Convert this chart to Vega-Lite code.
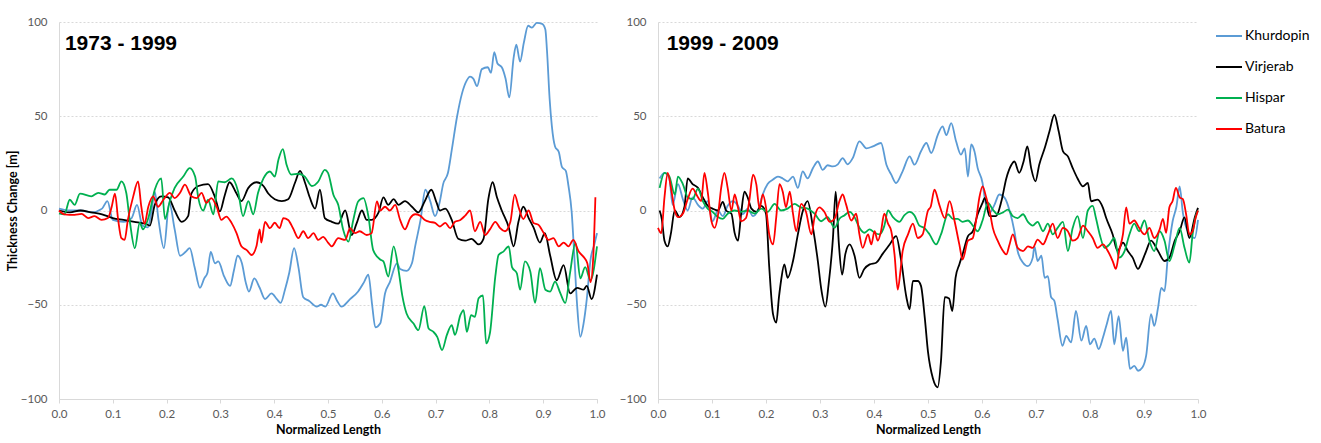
{
"$schema": "https://vega.github.io/schema/vega-lite/v6.json",
"padding": {"left": 6, "top": 16, "right": 0, "bottom": 0},
"background": "white",
"datasets": {
"d": [
{"period":"1973-1999","glacier":"Khurdopin","x":0,"y":1},{"period":"1973-1999","glacier":"Khurdopin","x":0.02,"y":0},{"period":"1973-1999","glacier":"Khurdopin","x":0.04,"y":0},{"period":"1973-1999","glacier":"Khurdopin","x":0.06,"y":-1},{"period":"1973-1999","glacier":"Khurdopin","x":0.08,"y":1},{"period":"1973-1999","glacier":"Khurdopin","x":0.09,"y":5},{"period":"1973-1999","glacier":"Khurdopin","x":0.1,"y":-5},{"period":"1973-1999","glacier":"Khurdopin","x":0.12,"y":-6},{"period":"1973-1999","glacier":"Khurdopin","x":0.135,"y":-4},{"period":"1973-1999","glacier":"Khurdopin","x":0.145,"y":3},{"period":"1973-1999","glacier":"Khurdopin","x":0.155,"y":-8},{"period":"1973-1999","glacier":"Khurdopin","x":0.165,"y":-9},{"period":"1973-1999","glacier":"Khurdopin","x":0.172,"y":0},{"period":"1973-1999","glacier":"Khurdopin","x":0.178,"y":10},{"period":"1973-1999","glacier":"Khurdopin","x":0.185,"y":-5},{"period":"1973-1999","glacier":"Khurdopin","x":0.195,"y":-20},{"period":"1973-1999","glacier":"Khurdopin","x":0.205,"y":4},{"period":"1973-1999","glacier":"Khurdopin","x":0.215,"y":-10},{"period":"1973-1999","glacier":"Khurdopin","x":0.225,"y":-24},{"period":"1973-1999","glacier":"Khurdopin","x":0.235,"y":-22},{"period":"1973-1999","glacier":"Khurdopin","x":0.243,"y":-20},{"period":"1973-1999","glacier":"Khurdopin","x":0.252,"y":-30},{"period":"1973-1999","glacier":"Khurdopin","x":0.262,"y":-41},{"period":"1973-1999","glacier":"Khurdopin","x":0.27,"y":-36},{"period":"1973-1999","glacier":"Khurdopin","x":0.276,"y":-33},{"period":"1973-1999","glacier":"Khurdopin","x":0.282,"y":-22},{"period":"1973-1999","glacier":"Khurdopin","x":0.29,"y":-28},{"period":"1973-1999","glacier":"Khurdopin","x":0.296,"y":-27},{"period":"1973-1999","glacier":"Khurdopin","x":0.307,"y":-35},{"period":"1973-1999","glacier":"Khurdopin","x":0.318,"y":-40},{"period":"1973-1999","glacier":"Khurdopin","x":0.325,"y":-32},{"period":"1973-1999","glacier":"Khurdopin","x":0.332,"y":-24},{"period":"1973-1999","glacier":"Khurdopin","x":0.34,"y":-28},{"period":"1973-1999","glacier":"Khurdopin","x":0.347,"y":-38},{"period":"1973-1999","glacier":"Khurdopin","x":0.353,"y":-43},{"period":"1973-1999","glacier":"Khurdopin","x":0.363,"y":-36},{"period":"1973-1999","glacier":"Khurdopin","x":0.373,"y":-41},{"period":"1973-1999","glacier":"Khurdopin","x":0.383,"y":-47},{"period":"1973-1999","glacier":"Khurdopin","x":0.395,"y":-44},{"period":"1973-1999","glacier":"Khurdopin","x":0.405,"y":-47},{"period":"1973-1999","glacier":"Khurdopin","x":0.412,"y":-49},{"period":"1973-1999","glacier":"Khurdopin","x":0.42,"y":-42},{"period":"1973-1999","glacier":"Khurdopin","x":0.428,"y":-33},{"period":"1973-1999","glacier":"Khurdopin","x":0.437,"y":-20},{"period":"1973-1999","glacier":"Khurdopin","x":0.445,"y":-30},{"period":"1973-1999","glacier":"Khurdopin","x":0.454,"y":-46},{"period":"1973-1999","glacier":"Khurdopin","x":0.465,"y":-48},{"period":"1973-1999","glacier":"Khurdopin","x":0.479,"y":-51},{"period":"1973-1999","glacier":"Khurdopin","x":0.487,"y":-50},{"period":"1973-1999","glacier":"Khurdopin","x":0.495,"y":-51},{"period":"1973-1999","glacier":"Khurdopin","x":0.509,"y":-44},{"period":"1973-1999","glacier":"Khurdopin","x":0.517,"y":-48},{"period":"1973-1999","glacier":"Khurdopin","x":0.525,"y":-51},{"period":"1973-1999","glacier":"Khurdopin","x":0.541,"y":-47},{"period":"1973-1999","glacier":"Khurdopin","x":0.556,"y":-43},{"period":"1973-1999","glacier":"Khurdopin","x":0.567,"y":-38},{"period":"1973-1999","glacier":"Khurdopin","x":0.575,"y":-34},{"period":"1973-1999","glacier":"Khurdopin","x":0.582,"y":-50},{"period":"1973-1999","glacier":"Khurdopin","x":0.588,"y":-62},{"period":"1973-1999","glacier":"Khurdopin","x":0.597,"y":-60},{"period":"1973-1999","glacier":"Khurdopin","x":0.606,"y":-44},{"period":"1973-1999","glacier":"Khurdopin","x":0.615,"y":-38},{"period":"1973-1999","glacier":"Khurdopin","x":0.628,"y":-28},{"period":"1973-1999","glacier":"Khurdopin","x":0.634,"y":-31},{"period":"1973-1999","glacier":"Khurdopin","x":0.646,"y":-32},{"period":"1973-1999","glacier":"Khurdopin","x":0.656,"y":-28},{"period":"1973-1999","glacier":"Khurdopin","x":0.662,"y":-19},{"period":"1973-1999","glacier":"Khurdopin","x":0.672,"y":-5},{"period":"1973-1999","glacier":"Khurdopin","x":0.681,"y":11},{"period":"1973-1999","glacier":"Khurdopin","x":0.69,"y":5},{"period":"1973-1999","glacier":"Khurdopin","x":0.699,"y":-3},{"period":"1973-1999","glacier":"Khurdopin","x":0.708,"y":5},{"period":"1973-1999","glacier":"Khurdopin","x":0.714,"y":14},{"period":"1973-1999","glacier":"Khurdopin","x":0.723,"y":20},{"period":"1973-1999","glacier":"Khurdopin","x":0.73,"y":32},{"period":"1973-1999","glacier":"Khurdopin","x":0.74,"y":50},{"period":"1973-1999","glacier":"Khurdopin","x":0.749,"y":62},{"period":"1973-1999","glacier":"Khurdopin","x":0.758,"y":69},{"period":"1973-1999","glacier":"Khurdopin","x":0.764,"y":71},{"period":"1973-1999","glacier":"Khurdopin","x":0.77,"y":70},{"period":"1973-1999","glacier":"Khurdopin","x":0.777,"y":66},{"period":"1973-1999","glacier":"Khurdopin","x":0.786,"y":75},{"period":"1973-1999","glacier":"Khurdopin","x":0.797,"y":76},{"period":"1973-1999","glacier":"Khurdopin","x":0.803,"y":73},{"period":"1973-1999","glacier":"Khurdopin","x":0.809,"y":84},{"period":"1973-1999","glacier":"Khurdopin","x":0.815,"y":78},{"period":"1973-1999","glacier":"Khurdopin","x":0.823,"y":76},{"period":"1973-1999","glacier":"Khurdopin","x":0.83,"y":70},{"period":"1973-1999","glacier":"Khurdopin","x":0.837,"y":60},{"period":"1973-1999","glacier":"Khurdopin","x":0.845,"y":81},{"period":"1973-1999","glacier":"Khurdopin","x":0.85,"y":88},{"period":"1973-1999","glacier":"Khurdopin","x":0.857,"y":79},{"period":"1973-1999","glacier":"Khurdopin","x":0.864,"y":89},{"period":"1973-1999","glacier":"Khurdopin","x":0.872,"y":98},{"period":"1973-1999","glacier":"Khurdopin","x":0.879,"y":97},{"period":"1973-1999","glacier":"Khurdopin","x":0.888,"y":99.5},{"period":"1973-1999","glacier":"Khurdopin","x":0.898,"y":99},{"period":"1973-1999","glacier":"Khurdopin","x":0.904,"y":96},{"period":"1973-1999","glacier":"Khurdopin","x":0.907,"y":85},{"period":"1973-1999","glacier":"Khurdopin","x":0.912,"y":59},{"period":"1973-1999","glacier":"Khurdopin","x":0.916,"y":45},{"period":"1973-1999","glacier":"Khurdopin","x":0.922,"y":34},{"period":"1973-1999","glacier":"Khurdopin","x":0.929,"y":31},{"period":"1973-1999","glacier":"Khurdopin","x":0.935,"y":23},{"period":"1973-1999","glacier":"Khurdopin","x":0.942,"y":21},{"period":"1973-1999","glacier":"Khurdopin","x":0.947,"y":13},{"period":"1973-1999","glacier":"Khurdopin","x":0.953,"y":-1},{"period":"1973-1999","glacier":"Khurdopin","x":0.958,"y":-25},{"period":"1973-1999","glacier":"Khurdopin","x":0.963,"y":-50},{"period":"1973-1999","glacier":"Khurdopin","x":0.969,"y":-67},{"period":"1973-1999","glacier":"Khurdopin","x":0.975,"y":-60},{"period":"1973-1999","glacier":"Khurdopin","x":0.981,"y":-47},{"period":"1973-1999","glacier":"Khurdopin","x":0.988,"y":-26},{"period":"1973-1999","glacier":"Khurdopin","x":0.995,"y":-18},{"period":"1973-1999","glacier":"Khurdopin","x":1,"y":-12},
{"period":"1973-1999","glacier":"Virjerab","x":0,"y":0},{"period":"1973-1999","glacier":"Virjerab","x":0.02,"y":-1},{"period":"1973-1999","glacier":"Virjerab","x":0.04,"y":0},{"period":"1973-1999","glacier":"Virjerab","x":0.06,"y":-1},{"period":"1973-1999","glacier":"Virjerab","x":0.08,"y":-2},{"period":"1973-1999","glacier":"Virjerab","x":0.1,"y":-4},{"period":"1973-1999","glacier":"Virjerab","x":0.12,"y":-5},{"period":"1973-1999","glacier":"Virjerab","x":0.14,"y":-6},{"period":"1973-1999","glacier":"Virjerab","x":0.16,"y":-7},{"period":"1973-1999","glacier":"Virjerab","x":0.169,"y":-8},{"period":"1973-1999","glacier":"Virjerab","x":0.178,"y":3},{"period":"1973-1999","glacier":"Virjerab","x":0.19,"y":7.5},{"period":"1973-1999","glacier":"Virjerab","x":0.203,"y":7},{"period":"1973-1999","glacier":"Virjerab","x":0.215,"y":0},{"period":"1973-1999","glacier":"Virjerab","x":0.228,"y":-6},{"period":"1973-1999","glacier":"Virjerab","x":0.24,"y":-3},{"period":"1973-1999","glacier":"Virjerab","x":0.246,"y":9},{"period":"1973-1999","glacier":"Virjerab","x":0.259,"y":13},{"period":"1973-1999","glacier":"Virjerab","x":0.277,"y":14},{"period":"1973-1999","glacier":"Virjerab","x":0.29,"y":7},{"period":"1973-1999","glacier":"Virjerab","x":0.299,"y":-0.5},{"period":"1973-1999","glacier":"Virjerab","x":0.308,"y":8},{"period":"1973-1999","glacier":"Virjerab","x":0.317,"y":15},{"period":"1973-1999","glacier":"Virjerab","x":0.33,"y":9},{"period":"1973-1999","glacier":"Virjerab","x":0.339,"y":5},{"period":"1973-1999","glacier":"Virjerab","x":0.352,"y":12},{"period":"1973-1999","glacier":"Virjerab","x":0.367,"y":15},{"period":"1973-1999","glacier":"Virjerab","x":0.38,"y":13},{"period":"1973-1999","glacier":"Virjerab","x":0.389,"y":9},{"period":"1973-1999","glacier":"Virjerab","x":0.401,"y":6},{"period":"1973-1999","glacier":"Virjerab","x":0.414,"y":5},{"period":"1973-1999","glacier":"Virjerab","x":0.426,"y":6},{"period":"1973-1999","glacier":"Virjerab","x":0.439,"y":15},{"period":"1973-1999","glacier":"Virjerab","x":0.448,"y":21},{"period":"1973-1999","glacier":"Virjerab","x":0.457,"y":15},{"period":"1973-1999","glacier":"Virjerab","x":0.466,"y":7},{"period":"1973-1999","glacier":"Virjerab","x":0.476,"y":1},{"period":"1973-1999","glacier":"Virjerab","x":0.485,"y":11},{"period":"1973-1999","glacier":"Virjerab","x":0.494,"y":-4},{"period":"1973-1999","glacier":"Virjerab","x":0.507,"y":-6},{"period":"1973-1999","glacier":"Virjerab","x":0.519,"y":-7},{"period":"1973-1999","glacier":"Virjerab","x":0.532,"y":0},{"period":"1973-1999","glacier":"Virjerab","x":0.544,"y":-13},{"period":"1973-1999","glacier":"Virjerab","x":0.553,"y":-7},{"period":"1973-1999","glacier":"Virjerab","x":0.563,"y":0},{"period":"1973-1999","glacier":"Virjerab","x":0.572,"y":-5},{"period":"1973-1999","glacier":"Virjerab","x":0.581,"y":-5},{"period":"1973-1999","glacier":"Virjerab","x":0.594,"y":-1},{"period":"1973-1999","glacier":"Virjerab","x":0.603,"y":7},{"period":"1973-1999","glacier":"Virjerab","x":0.612,"y":3},{"period":"1973-1999","glacier":"Virjerab","x":0.622,"y":6},{"period":"1973-1999","glacier":"Virjerab","x":0.631,"y":3},{"period":"1973-1999","glacier":"Virjerab","x":0.643,"y":5},{"period":"1973-1999","glacier":"Virjerab","x":0.656,"y":2},{"period":"1973-1999","glacier":"Virjerab","x":0.668,"y":-1},{"period":"1973-1999","glacier":"Virjerab","x":0.68,"y":5},{"period":"1973-1999","glacier":"Virjerab","x":0.692,"y":11},{"period":"1973-1999","glacier":"Virjerab","x":0.702,"y":4},{"period":"1973-1999","glacier":"Virjerab","x":0.708,"y":0},{"period":"1973-1999","glacier":"Virjerab","x":0.718,"y":1},{"period":"1973-1999","glacier":"Virjerab","x":0.73,"y":-5},{"period":"1973-1999","glacier":"Virjerab","x":0.742,"y":-15},{"period":"1973-1999","glacier":"Virjerab","x":0.755,"y":-16},{"period":"1973-1999","glacier":"Virjerab","x":0.767,"y":-15},{"period":"1973-1999","glacier":"Virjerab","x":0.78,"y":-18},{"period":"1973-1999","glacier":"Virjerab","x":0.789,"y":-15},{"period":"1973-1999","glacier":"Virjerab","x":0.798,"y":6},{"period":"1973-1999","glacier":"Virjerab","x":0.806,"y":15},{"period":"1973-1999","glacier":"Virjerab","x":0.814,"y":7},{"period":"1973-1999","glacier":"Virjerab","x":0.823,"y":0},{"period":"1973-1999","glacier":"Virjerab","x":0.836,"y":-9},{"period":"1973-1999","glacier":"Virjerab","x":0.845,"y":-19},{"period":"1973-1999","glacier":"Virjerab","x":0.854,"y":-6},{"period":"1973-1999","glacier":"Virjerab","x":0.863,"y":2},{"period":"1973-1999","glacier":"Virjerab","x":0.873,"y":-4},{"period":"1973-1999","glacier":"Virjerab","x":0.882,"y":-9},{"period":"1973-1999","glacier":"Virjerab","x":0.894,"y":-17},{"period":"1973-1999","glacier":"Virjerab","x":0.903,"y":-12},{"period":"1973-1999","glacier":"Virjerab","x":0.913,"y":-24},{"period":"1973-1999","glacier":"Virjerab","x":0.925,"y":-37},{"period":"1973-1999","glacier":"Virjerab","x":0.938,"y":-29},{"period":"1973-1999","glacier":"Virjerab","x":0.95,"y":-44},{"period":"1973-1999","glacier":"Virjerab","x":0.963,"y":-41},{"period":"1973-1999","glacier":"Virjerab","x":0.975,"y":-42},{"period":"1973-1999","glacier":"Virjerab","x":0.981,"y":-40},{"period":"1973-1999","glacier":"Virjerab","x":0.99,"y":-47},{"period":"1973-1999","glacier":"Virjerab","x":1,"y":-34},
{"period":"1973-1999","glacier":"Hispar","x":0,"y":-1.5},{"period":"1973-1999","glacier":"Hispar","x":0.01,"y":-2},{"period":"1973-1999","glacier":"Hispar","x":0.02,"y":5.7},{"period":"1973-1999","glacier":"Hispar","x":0.029,"y":3},{"period":"1973-1999","glacier":"Hispar","x":0.039,"y":9},{"period":"1973-1999","glacier":"Hispar","x":0.06,"y":7.5},{"period":"1973-1999","glacier":"Hispar","x":0.073,"y":9.4},{"period":"1973-1999","glacier":"Hispar","x":0.085,"y":8.5},{"period":"1973-1999","glacier":"Hispar","x":0.094,"y":11},{"period":"1973-1999","glacier":"Hispar","x":0.107,"y":11},{"period":"1973-1999","glacier":"Hispar","x":0.116,"y":15.4},{"period":"1973-1999","glacier":"Hispar","x":0.125,"y":9.4},{"period":"1973-1999","glacier":"Hispar","x":0.132,"y":-6.5},{"period":"1973-1999","glacier":"Hispar","x":0.141,"y":-20},{"period":"1973-1999","glacier":"Hispar","x":0.15,"y":-6.5},{"period":"1973-1999","glacier":"Hispar","x":0.156,"y":-10},{"period":"1973-1999","glacier":"Hispar","x":0.166,"y":-4},{"period":"1973-1999","glacier":"Hispar","x":0.178,"y":11},{"period":"1973-1999","glacier":"Hispar","x":0.19,"y":17},{"period":"1973-1999","glacier":"Hispar","x":0.197,"y":-4.5},{"period":"1973-1999","glacier":"Hispar","x":0.206,"y":5},{"period":"1973-1999","glacier":"Hispar","x":0.215,"y":12},{"period":"1973-1999","glacier":"Hispar","x":0.231,"y":18},{"period":"1973-1999","glacier":"Hispar","x":0.243,"y":22.5},{"period":"1973-1999","glacier":"Hispar","x":0.253,"y":18},{"period":"1973-1999","glacier":"Hispar","x":0.259,"y":6.6},{"period":"1973-1999","glacier":"Hispar","x":0.268,"y":0},{"period":"1973-1999","glacier":"Hispar","x":0.277,"y":5.7},{"period":"1973-1999","glacier":"Hispar","x":0.287,"y":-2},{"period":"1973-1999","glacier":"Hispar","x":0.296,"y":15.4},{"period":"1973-1999","glacier":"Hispar","x":0.308,"y":15},{"period":"1973-1999","glacier":"Hispar","x":0.321,"y":17},{"period":"1973-1999","glacier":"Hispar","x":0.333,"y":10},{"period":"1973-1999","glacier":"Hispar","x":0.342,"y":-3},{"period":"1973-1999","glacier":"Hispar","x":0.352,"y":5},{"period":"1973-1999","glacier":"Hispar","x":0.361,"y":-2},{"period":"1973-1999","glacier":"Hispar","x":0.37,"y":9.4},{"period":"1973-1999","glacier":"Hispar","x":0.38,"y":17},{"period":"1973-1999","glacier":"Hispar","x":0.392,"y":20.7},{"period":"1973-1999","glacier":"Hispar","x":0.401,"y":18},{"period":"1973-1999","glacier":"Hispar","x":0.408,"y":27},{"period":"1973-1999","glacier":"Hispar","x":0.416,"y":32.6},{"period":"1973-1999","glacier":"Hispar","x":0.423,"y":24.3},{"period":"1973-1999","glacier":"Hispar","x":0.432,"y":19},{"period":"1973-1999","glacier":"Hispar","x":0.445,"y":19.5},{"period":"1973-1999","glacier":"Hispar","x":0.457,"y":18},{"period":"1973-1999","glacier":"Hispar","x":0.47,"y":13},{"period":"1973-1999","glacier":"Hispar","x":0.482,"y":15.4},{"period":"1973-1999","glacier":"Hispar","x":0.494,"y":21.6},{"period":"1973-1999","glacier":"Hispar","x":0.5,"y":20},{"period":"1973-1999","glacier":"Hispar","x":0.51,"y":8.4},{"period":"1973-1999","glacier":"Hispar","x":0.519,"y":3},{"period":"1973-1999","glacier":"Hispar","x":0.528,"y":-10},{"period":"1973-1999","glacier":"Hispar","x":0.538,"y":-16.5},{"period":"1973-1999","glacier":"Hispar","x":0.547,"y":-5},{"period":"1973-1999","glacier":"Hispar","x":0.556,"y":4.8},{"period":"1973-1999","glacier":"Hispar","x":0.566,"y":6.6},{"period":"1973-1999","glacier":"Hispar","x":0.575,"y":-3},{"period":"1973-1999","glacier":"Hispar","x":0.584,"y":-21},{"period":"1973-1999","glacier":"Hispar","x":0.597,"y":-26},{"period":"1973-1999","glacier":"Hispar","x":0.603,"y":-27},{"period":"1973-1999","glacier":"Hispar","x":0.612,"y":-35},{"period":"1973-1999","glacier":"Hispar","x":0.622,"y":-19},{"period":"1973-1999","glacier":"Hispar","x":0.631,"y":-31.5},{"period":"1973-1999","glacier":"Hispar","x":0.638,"y":-45},{"period":"1973-1999","glacier":"Hispar","x":0.646,"y":-54.6},{"period":"1973-1999","glacier":"Hispar","x":0.659,"y":-60},{"period":"1973-1999","glacier":"Hispar","x":0.668,"y":-63.5},{"period":"1973-1999","glacier":"Hispar","x":0.679,"y":-50.7},{"period":"1973-1999","glacier":"Hispar","x":0.687,"y":-62.6},{"period":"1973-1999","glacier":"Hispar","x":0.696,"y":-64.4},{"period":"1973-1999","glacier":"Hispar","x":0.703,"y":-67},{"period":"1973-1999","glacier":"Hispar","x":0.712,"y":-74},{"period":"1973-1999","glacier":"Hispar","x":0.721,"y":-66},{"period":"1973-1999","glacier":"Hispar","x":0.73,"y":-60.8},{"period":"1973-1999","glacier":"Hispar","x":0.736,"y":-66},{"period":"1973-1999","glacier":"Hispar","x":0.746,"y":-55.5},{"period":"1973-1999","glacier":"Hispar","x":0.752,"y":-52.8},{"period":"1973-1999","glacier":"Hispar","x":0.758,"y":-64.4},{"period":"1973-1999","glacier":"Hispar","x":0.766,"y":-55.5},{"period":"1973-1999","glacier":"Hispar","x":0.773,"y":-56.4},{"period":"1973-1999","glacier":"Hispar","x":0.78,"y":-46.6},{"period":"1973-1999","glacier":"Hispar","x":0.788,"y":-45},{"period":"1973-1999","glacier":"Hispar","x":0.794,"y":-70.5},{"period":"1973-1999","glacier":"Hispar","x":0.801,"y":-65},{"period":"1973-1999","glacier":"Hispar","x":0.811,"y":-35},{"period":"1973-1999","glacier":"Hispar","x":0.817,"y":-23.6},{"period":"1973-1999","glacier":"Hispar","x":0.826,"y":-21.8},{"period":"1973-1999","glacier":"Hispar","x":0.836,"y":-19},{"period":"1973-1999","glacier":"Hispar","x":0.842,"y":-30},{"period":"1973-1999","glacier":"Hispar","x":0.851,"y":-33.3},{"period":"1973-1999","glacier":"Hispar","x":0.857,"y":-42},{"period":"1973-1999","glacier":"Hispar","x":0.866,"y":-27},{"period":"1973-1999","glacier":"Hispar","x":0.876,"y":-32.4},{"period":"1973-1999","glacier":"Hispar","x":0.885,"y":-49},{"period":"1973-1999","glacier":"Hispar","x":0.894,"y":-30.6},{"period":"1973-1999","glacier":"Hispar","x":0.904,"y":-42},{"period":"1973-1999","glacier":"Hispar","x":0.913,"y":-43},{"period":"1973-1999","glacier":"Hispar","x":0.922,"y":-37.7},{"period":"1973-1999","glacier":"Hispar","x":0.932,"y":-44},{"period":"1973-1999","glacier":"Hispar","x":0.941,"y":-49},{"period":"1973-1999","glacier":"Hispar","x":0.95,"y":-33},{"period":"1973-1999","glacier":"Hispar","x":0.96,"y":-17},{"period":"1973-1999","glacier":"Hispar","x":0.969,"y":-36},{"period":"1973-1999","glacier":"Hispar","x":0.978,"y":-30},{"period":"1973-1999","glacier":"Hispar","x":0.988,"y":-37},{"period":"1973-1999","glacier":"Hispar","x":1,"y":-19},
{"period":"1973-1999","glacier":"Batura","x":0,"y":0},{"period":"1973-1999","glacier":"Batura","x":0.01,"y":-2},{"period":"1973-1999","glacier":"Batura","x":0.029,"y":-2.3},{"period":"1973-1999","glacier":"Batura","x":0.042,"y":-1.8},{"period":"1973-1999","glacier":"Batura","x":0.054,"y":-4},{"period":"1973-1999","glacier":"Batura","x":0.066,"y":-3},{"period":"1973-1999","glacier":"Batura","x":0.079,"y":-5},{"period":"1973-1999","glacier":"Batura","x":0.091,"y":-4},{"period":"1973-1999","glacier":"Batura","x":0.098,"y":2},{"period":"1973-1999","glacier":"Batura","x":0.104,"y":9},{"period":"1973-1999","glacier":"Batura","x":0.11,"y":-5},{"period":"1973-1999","glacier":"Batura","x":0.116,"y":-14.7},{"period":"1973-1999","glacier":"Batura","x":0.122,"y":-15.6},{"period":"1973-1999","glacier":"Batura","x":0.128,"y":-5},{"period":"1973-1999","glacier":"Batura","x":0.138,"y":7.5},{"period":"1973-1999","glacier":"Batura","x":0.147,"y":15.4},{"period":"1973-1999","glacier":"Batura","x":0.153,"y":2},{"period":"1973-1999","glacier":"Batura","x":0.159,"y":-7},{"period":"1973-1999","glacier":"Batura","x":0.166,"y":2},{"period":"1973-1999","glacier":"Batura","x":0.175,"y":7.5},{"period":"1973-1999","glacier":"Batura","x":0.184,"y":2},{"period":"1973-1999","glacier":"Batura","x":0.194,"y":5.7},{"period":"1973-1999","glacier":"Batura","x":0.206,"y":9.4},{"period":"1973-1999","glacier":"Batura","x":0.215,"y":6.6},{"period":"1973-1999","glacier":"Batura","x":0.225,"y":9.4},{"period":"1973-1999","glacier":"Batura","x":0.234,"y":13.7},{"period":"1973-1999","glacier":"Batura","x":0.246,"y":7.5},{"period":"1973-1999","glacier":"Batura","x":0.256,"y":6.6},{"period":"1973-1999","glacier":"Batura","x":0.265,"y":9.4},{"period":"1973-1999","glacier":"Batura","x":0.274,"y":4},{"period":"1973-1999","glacier":"Batura","x":0.283,"y":6.6},{"period":"1973-1999","glacier":"Batura","x":0.293,"y":2},{"period":"1973-1999","glacier":"Batura","x":0.302,"y":-5},{"period":"1973-1999","glacier":"Batura","x":0.311,"y":-3.2},{"period":"1973-1999","glacier":"Batura","x":0.321,"y":-6.7},{"period":"1973-1999","glacier":"Batura","x":0.33,"y":-12},{"period":"1973-1999","glacier":"Batura","x":0.339,"y":-19},{"period":"1973-1999","glacier":"Batura","x":0.349,"y":-21},{"period":"1973-1999","glacier":"Batura","x":0.358,"y":-23.6},{"period":"1973-1999","glacier":"Batura","x":0.367,"y":-19},{"period":"1973-1999","glacier":"Batura","x":0.373,"y":-10},{"period":"1973-1999","glacier":"Batura","x":0.376,"y":-17},{"period":"1973-1999","glacier":"Batura","x":0.383,"y":-6},{"period":"1973-1999","glacier":"Batura","x":0.392,"y":-9.4},{"period":"1973-1999","glacier":"Batura","x":0.401,"y":-6.5},{"period":"1973-1999","glacier":"Batura","x":0.41,"y":-9.4},{"period":"1973-1999","glacier":"Batura","x":0.417,"y":-4},{"period":"1973-1999","glacier":"Batura","x":0.426,"y":-5},{"period":"1973-1999","glacier":"Batura","x":0.435,"y":-9.4},{"period":"1973-1999","glacier":"Batura","x":0.445,"y":-14.7},{"period":"1973-1999","glacier":"Batura","x":0.454,"y":-11},{"period":"1973-1999","glacier":"Batura","x":0.463,"y":-14.7},{"period":"1973-1999","glacier":"Batura","x":0.473,"y":-12},{"period":"1973-1999","glacier":"Batura","x":0.482,"y":-15.6},{"period":"1973-1999","glacier":"Batura","x":0.491,"y":-14},{"period":"1973-1999","glacier":"Batura","x":0.5,"y":-17},{"period":"1973-1999","glacier":"Batura","x":0.507,"y":-19},{"period":"1973-1999","glacier":"Batura","x":0.519,"y":-14.7},{"period":"1973-1999","glacier":"Batura","x":0.532,"y":-15.6},{"period":"1973-1999","glacier":"Batura","x":0.541,"y":-9.4},{"period":"1973-1999","glacier":"Batura","x":0.55,"y":-12},{"period":"1973-1999","glacier":"Batura","x":0.559,"y":-11},{"period":"1973-1999","glacier":"Batura","x":0.572,"y":-13},{"period":"1973-1999","glacier":"Batura","x":0.581,"y":-12},{"period":"1973-1999","glacier":"Batura","x":0.591,"y":4.8},{"period":"1973-1999","glacier":"Batura","x":0.597,"y":0},{"period":"1973-1999","glacier":"Batura","x":0.606,"y":2},{"period":"1973-1999","glacier":"Batura","x":0.615,"y":0},{"period":"1973-1999","glacier":"Batura","x":0.625,"y":3},{"period":"1973-1999","glacier":"Batura","x":0.634,"y":-5},{"period":"1973-1999","glacier":"Batura","x":0.643,"y":-10},{"period":"1973-1999","glacier":"Batura","x":0.653,"y":-4},{"period":"1973-1999","glacier":"Batura","x":0.662,"y":-2},{"period":"1973-1999","glacier":"Batura","x":0.671,"y":-2.7},{"period":"1973-1999","glacier":"Batura","x":0.68,"y":-5},{"period":"1973-1999","glacier":"Batura","x":0.689,"y":-6},{"period":"1973-1999","glacier":"Batura","x":0.699,"y":-6.6},{"period":"1973-1999","glacier":"Batura","x":0.708,"y":-8.5},{"period":"1973-1999","glacier":"Batura","x":0.718,"y":-6.6},{"period":"1973-1999","glacier":"Batura","x":0.727,"y":-9.4},{"period":"1973-1999","glacier":"Batura","x":0.736,"y":-6},{"period":"1973-1999","glacier":"Batura","x":0.746,"y":-5},{"period":"1973-1999","glacier":"Batura","x":0.755,"y":-2.7},{"period":"1973-1999","glacier":"Batura","x":0.764,"y":0},{"period":"1973-1999","glacier":"Batura","x":0.773,"y":-11},{"period":"1973-1999","glacier":"Batura","x":0.783,"y":-6},{"period":"1973-1999","glacier":"Batura","x":0.792,"y":-13},{"period":"1973-1999","glacier":"Batura","x":0.801,"y":-10},{"period":"1973-1999","glacier":"Batura","x":0.811,"y":-6},{"period":"1973-1999","glacier":"Batura","x":0.82,"y":-9.4},{"period":"1973-1999","glacier":"Batura","x":0.829,"y":-11},{"period":"1973-1999","glacier":"Batura","x":0.839,"y":-6},{"period":"1973-1999","glacier":"Batura","x":0.847,"y":8.4},{"period":"1973-1999","glacier":"Batura","x":0.854,"y":2},{"period":"1973-1999","glacier":"Batura","x":0.863,"y":-4.5},{"period":"1973-1999","glacier":"Batura","x":0.873,"y":0},{"period":"1973-1999","glacier":"Batura","x":0.882,"y":-6.6},{"period":"1973-1999","glacier":"Batura","x":0.891,"y":-7.5},{"period":"1973-1999","glacier":"Batura","x":0.901,"y":-12},{"period":"1973-1999","glacier":"Batura","x":0.91,"y":-15.6},{"period":"1973-1999","glacier":"Batura","x":0.919,"y":-14.7},{"period":"1973-1999","glacier":"Batura","x":0.929,"y":-19},{"period":"1973-1999","glacier":"Batura","x":0.938,"y":-17},{"period":"1973-1999","glacier":"Batura","x":0.947,"y":-19},{"period":"1973-1999","glacier":"Batura","x":0.956,"y":-15.6},{"period":"1973-1999","glacier":"Batura","x":0.966,"y":-21.8},{"period":"1973-1999","glacier":"Batura","x":0.975,"y":-24.6},{"period":"1973-1999","glacier":"Batura","x":0.982,"y":-28},{"period":"1973-1999","glacier":"Batura","x":0.988,"y":-38},{"period":"1973-1999","glacier":"Batura","x":0.993,"y":-25},{"period":"1973-1999","glacier":"Batura","x":0.997,"y":7},
{"period":"1999-2009","glacier":"Khurdopin","x":0.003,"y":17},{"period":"1999-2009","glacier":"Khurdopin","x":0.012,"y":20},{"period":"1999-2009","glacier":"Khurdopin","x":0.021,"y":17},{"period":"1999-2009","glacier":"Khurdopin","x":0.027,"y":3},{"period":"1999-2009","glacier":"Khurdopin","x":0.037,"y":14},{"period":"1999-2009","glacier":"Khurdopin","x":0.046,"y":6},{"period":"1999-2009","glacier":"Khurdopin","x":0.055,"y":0},{"period":"1999-2009","glacier":"Khurdopin","x":0.064,"y":7},{"period":"1999-2009","glacier":"Khurdopin","x":0.074,"y":3},{"period":"1999-2009","glacier":"Khurdopin","x":0.083,"y":1},{"period":"1999-2009","glacier":"Khurdopin","x":0.092,"y":5},{"period":"1999-2009","glacier":"Khurdopin","x":0.101,"y":-5.7},{"period":"1999-2009","glacier":"Khurdopin","x":0.111,"y":0},{"period":"1999-2009","glacier":"Khurdopin","x":0.12,"y":-3},{"period":"1999-2009","glacier":"Khurdopin","x":0.129,"y":2.5},{"period":"1999-2009","glacier":"Khurdopin","x":0.139,"y":5},{"period":"1999-2009","glacier":"Khurdopin","x":0.148,"y":2.5},{"period":"1999-2009","glacier":"Khurdopin","x":0.157,"y":-2},{"period":"1999-2009","glacier":"Khurdopin","x":0.166,"y":1},{"period":"1999-2009","glacier":"Khurdopin","x":0.176,"y":-3},{"period":"1999-2009","glacier":"Khurdopin","x":0.185,"y":0},{"period":"1999-2009","glacier":"Khurdopin","x":0.194,"y":8.5},{"period":"1999-2009","glacier":"Khurdopin","x":0.203,"y":14},{"period":"1999-2009","glacier":"Khurdopin","x":0.213,"y":16.4},{"period":"1999-2009","glacier":"Khurdopin","x":0.222,"y":18},{"period":"1999-2009","glacier":"Khurdopin","x":0.231,"y":17},{"period":"1999-2009","glacier":"Khurdopin","x":0.24,"y":15.5},{"period":"1999-2009","glacier":"Khurdopin","x":0.25,"y":18},{"period":"1999-2009","glacier":"Khurdopin","x":0.259,"y":12},{"period":"1999-2009","glacier":"Khurdopin","x":0.268,"y":20.8},{"period":"1999-2009","glacier":"Khurdopin","x":0.277,"y":17},{"period":"1999-2009","glacier":"Khurdopin","x":0.287,"y":22.5},{"period":"1999-2009","glacier":"Khurdopin","x":0.296,"y":26},{"period":"1999-2009","glacier":"Khurdopin","x":0.305,"y":21.5},{"period":"1999-2009","glacier":"Khurdopin","x":0.314,"y":24},{"period":"1999-2009","glacier":"Khurdopin","x":0.324,"y":23.4},{"period":"1999-2009","glacier":"Khurdopin","x":0.333,"y":24.5},{"period":"1999-2009","glacier":"Khurdopin","x":0.342,"y":27.8},{"period":"1999-2009","glacier":"Khurdopin","x":0.351,"y":24.5},{"period":"1999-2009","glacier":"Khurdopin","x":0.361,"y":28},{"period":"1999-2009","glacier":"Khurdopin","x":0.373,"y":36.7},{"period":"1999-2009","glacier":"Khurdopin","x":0.386,"y":33},{"period":"1999-2009","glacier":"Khurdopin","x":0.398,"y":34},{"period":"1999-2009","glacier":"Khurdopin","x":0.413,"y":35.8},{"period":"1999-2009","glacier":"Khurdopin","x":0.423,"y":24.3},{"period":"1999-2009","glacier":"Khurdopin","x":0.432,"y":19},{"period":"1999-2009","glacier":"Khurdopin","x":0.441,"y":14.6},{"period":"1999-2009","glacier":"Khurdopin","x":0.453,"y":20.8},{"period":"1999-2009","glacier":"Khurdopin","x":0.466,"y":28.7},{"period":"1999-2009","glacier":"Khurdopin","x":0.475,"y":24.3},{"period":"1999-2009","glacier":"Khurdopin","x":0.487,"y":31.4},{"period":"1999-2009","glacier":"Khurdopin","x":0.497,"y":35.8},{"period":"1999-2009","glacier":"Khurdopin","x":0.506,"y":30.5},{"period":"1999-2009","glacier":"Khurdopin","x":0.518,"y":40},{"period":"1999-2009","glacier":"Khurdopin","x":0.527,"y":44.6},{"period":"1999-2009","glacier":"Khurdopin","x":0.534,"y":40},{"period":"1999-2009","glacier":"Khurdopin","x":0.543,"y":46.3},{"period":"1999-2009","glacier":"Khurdopin","x":0.552,"y":36.7},{"period":"1999-2009","glacier":"Khurdopin","x":0.561,"y":29.6},{"period":"1999-2009","glacier":"Khurdopin","x":0.568,"y":33},{"period":"1999-2009","glacier":"Khurdopin","x":0.574,"y":18},{"period":"1999-2009","glacier":"Khurdopin","x":0.58,"y":35},{"period":"1999-2009","glacier":"Khurdopin","x":0.586,"y":31.4},{"period":"1999-2009","glacier":"Khurdopin","x":0.592,"y":22.5},{"period":"1999-2009","glacier":"Khurdopin","x":0.601,"y":14.6},{"period":"1999-2009","glacier":"Khurdopin","x":0.605,"y":6.7},{"period":"1999-2009","glacier":"Khurdopin","x":0.614,"y":-1.3},{"period":"1999-2009","glacier":"Khurdopin","x":0.623,"y":3},{"period":"1999-2009","glacier":"Khurdopin","x":0.632,"y":8.5},{"period":"1999-2009","glacier":"Khurdopin","x":0.642,"y":6.7},{"period":"1999-2009","glacier":"Khurdopin","x":0.651,"y":0},{"period":"1999-2009","glacier":"Khurdopin","x":0.66,"y":-11},{"period":"1999-2009","glacier":"Khurdopin","x":0.666,"y":-21.5},{"period":"1999-2009","glacier":"Khurdopin","x":0.676,"y":-27.7},{"period":"1999-2009","glacier":"Khurdopin","x":0.685,"y":-29.5},{"period":"1999-2009","glacier":"Khurdopin","x":0.694,"y":-25},{"period":"1999-2009","glacier":"Khurdopin","x":0.697,"y":-19},{"period":"1999-2009","glacier":"Khurdopin","x":0.703,"y":-26.8},{"period":"1999-2009","glacier":"Khurdopin","x":0.71,"y":-24},{"period":"1999-2009","glacier":"Khurdopin","x":0.716,"y":-35.7},{"period":"1999-2009","glacier":"Khurdopin","x":0.722,"y":-34.8},{"period":"1999-2009","glacier":"Khurdopin","x":0.728,"y":-46},{"period":"1999-2009","glacier":"Khurdopin","x":0.734,"y":-48},{"period":"1999-2009","glacier":"Khurdopin","x":0.74,"y":-57.7},{"period":"1999-2009","glacier":"Khurdopin","x":0.749,"y":-71.8},{"period":"1999-2009","glacier":"Khurdopin","x":0.756,"y":-66.5},{"period":"1999-2009","glacier":"Khurdopin","x":0.765,"y":-70},{"period":"1999-2009","glacier":"Khurdopin","x":0.774,"y":-53.3},{"period":"1999-2009","glacier":"Khurdopin","x":0.784,"y":-69},{"period":"1999-2009","glacier":"Khurdopin","x":0.793,"y":-61.2},{"period":"1999-2009","glacier":"Khurdopin","x":0.8,"y":-71},{"period":"1999-2009","glacier":"Khurdopin","x":0.808,"y":-68},{"period":"1999-2009","glacier":"Khurdopin","x":0.816,"y":-73.5},{"period":"1999-2009","glacier":"Khurdopin","x":0.824,"y":-67.4},{"period":"1999-2009","glacier":"Khurdopin","x":0.831,"y":-60.3},{"period":"1999-2009","glacier":"Khurdopin","x":0.839,"y":-53.3},{"period":"1999-2009","glacier":"Khurdopin","x":0.845,"y":-71},{"period":"1999-2009","glacier":"Khurdopin","x":0.853,"y":-56},{"period":"1999-2009","glacier":"Khurdopin","x":0.861,"y":-74.4},{"period":"1999-2009","glacier":"Khurdopin","x":0.867,"y":-67.4},{"period":"1999-2009","glacier":"Khurdopin","x":0.874,"y":-84},{"period":"1999-2009","glacier":"Khurdopin","x":0.882,"y":-82.4},{"period":"1999-2009","glacier":"Khurdopin","x":0.889,"y":-85},{"period":"1999-2009","glacier":"Khurdopin","x":0.897,"y":-83.3},{"period":"1999-2009","glacier":"Khurdopin","x":0.904,"y":-77},{"period":"1999-2009","glacier":"Khurdopin","x":0.913,"y":-55},{"period":"1999-2009","glacier":"Khurdopin","x":0.919,"y":-61.2},{"period":"1999-2009","glacier":"Khurdopin","x":0.926,"y":-51.5},{"period":"1999-2009","glacier":"Khurdopin","x":0.932,"y":-41},{"period":"1999-2009","glacier":"Khurdopin","x":0.938,"y":-42.7},{"period":"1999-2009","glacier":"Khurdopin","x":0.944,"y":-25},{"period":"1999-2009","glacier":"Khurdopin","x":0.953,"y":-5.7},{"period":"1999-2009","glacier":"Khurdopin","x":0.96,"y":2},{"period":"1999-2009","glacier":"Khurdopin","x":0.966,"y":12.8},{"period":"1999-2009","glacier":"Khurdopin","x":0.972,"y":-1.3},{"period":"1999-2009","glacier":"Khurdopin","x":0.981,"y":-11},{"period":"1999-2009","glacier":"Khurdopin","x":0.994,"y":-14.6},{"period":"1999-2009","glacier":"Khurdopin","x":1,"y":-5},
{"period":"1999-2009","glacier":"Virjerab","x":0.003,"y":0},{"period":"1999-2009","glacier":"Virjerab","x":0.007,"y":-4.5},{"period":"1999-2009","glacier":"Virjerab","x":0.012,"y":-16},{"period":"1999-2009","glacier":"Virjerab","x":0.018,"y":-19},{"period":"1999-2009","glacier":"Virjerab","x":0.024,"y":-12},{"period":"1999-2009","glacier":"Virjerab","x":0.031,"y":0},{"period":"1999-2009","glacier":"Virjerab","x":0.04,"y":-3.5},{"period":"1999-2009","glacier":"Virjerab","x":0.049,"y":2},{"period":"1999-2009","glacier":"Virjerab","x":0.055,"y":17},{"period":"1999-2009","glacier":"Virjerab","x":0.064,"y":14},{"period":"1999-2009","glacier":"Virjerab","x":0.074,"y":12},{"period":"1999-2009","glacier":"Virjerab","x":0.083,"y":7},{"period":"1999-2009","glacier":"Virjerab","x":0.092,"y":2.5},{"period":"1999-2009","glacier":"Virjerab","x":0.101,"y":1},{"period":"1999-2009","glacier":"Virjerab","x":0.111,"y":0},{"period":"1999-2009","glacier":"Virjerab","x":0.12,"y":4.6},{"period":"1999-2009","glacier":"Virjerab","x":0.126,"y":0},{"period":"1999-2009","glacier":"Virjerab","x":0.136,"y":-1.7},{"period":"1999-2009","glacier":"Virjerab","x":0.142,"y":-12},{"period":"1999-2009","glacier":"Virjerab","x":0.148,"y":-16},{"period":"1999-2009","glacier":"Virjerab","x":0.154,"y":-1.7},{"period":"1999-2009","glacier":"Virjerab","x":0.16,"y":10},{"period":"1999-2009","glacier":"Virjerab","x":0.166,"y":7},{"period":"1999-2009","glacier":"Virjerab","x":0.173,"y":1},{"period":"1999-2009","glacier":"Virjerab","x":0.182,"y":-0.7},{"period":"1999-2009","glacier":"Virjerab","x":0.191,"y":2.5},{"period":"1999-2009","glacier":"Virjerab","x":0.2,"y":-1.7},{"period":"1999-2009","glacier":"Virjerab","x":0.206,"y":-30},{"period":"1999-2009","glacier":"Virjerab","x":0.213,"y":-55},{"period":"1999-2009","glacier":"Virjerab","x":0.219,"y":-59.5},{"period":"1999-2009","glacier":"Virjerab","x":0.224,"y":-46},{"period":"1999-2009","glacier":"Virjerab","x":0.228,"y":-37},{"period":"1999-2009","glacier":"Virjerab","x":0.234,"y":-28.6},{"period":"1999-2009","glacier":"Virjerab","x":0.24,"y":-35.7},{"period":"1999-2009","glacier":"Virjerab","x":0.25,"y":-26.8},{"period":"1999-2009","glacier":"Virjerab","x":0.259,"y":-12.7},{"period":"1999-2009","glacier":"Virjerab","x":0.268,"y":-0.4},{"period":"1999-2009","glacier":"Virjerab","x":0.277,"y":5},{"period":"1999-2009","glacier":"Virjerab","x":0.287,"y":-9.2},{"period":"1999-2009","glacier":"Virjerab","x":0.296,"y":-26.8},{"period":"1999-2009","glacier":"Virjerab","x":0.302,"y":-41},{"period":"1999-2009","glacier":"Virjerab","x":0.31,"y":-51},{"period":"1999-2009","glacier":"Virjerab","x":0.316,"y":-39},{"period":"1999-2009","glacier":"Virjerab","x":0.324,"y":-14.5},{"period":"1999-2009","glacier":"Virjerab","x":0.329,"y":10},{"period":"1999-2009","glacier":"Virjerab","x":0.335,"y":-18},{"period":"1999-2009","glacier":"Virjerab","x":0.341,"y":-34},{"period":"1999-2009","glacier":"Virjerab","x":0.347,"y":-23},{"period":"1999-2009","glacier":"Virjerab","x":0.355,"y":-18},{"period":"1999-2009","glacier":"Virjerab","x":0.364,"y":-24},{"period":"1999-2009","glacier":"Virjerab","x":0.373,"y":-35.7},{"period":"1999-2009","glacier":"Virjerab","x":0.382,"y":-31},{"period":"1999-2009","glacier":"Virjerab","x":0.392,"y":-28.6},{"period":"1999-2009","glacier":"Virjerab","x":0.404,"y":-27.7},{"period":"1999-2009","glacier":"Virjerab","x":0.416,"y":-23},{"period":"1999-2009","glacier":"Virjerab","x":0.429,"y":-18},{"period":"1999-2009","glacier":"Virjerab","x":0.441,"y":-13.6},{"period":"1999-2009","glacier":"Virjerab","x":0.45,"y":-26},{"period":"1999-2009","glacier":"Virjerab","x":0.46,"y":-46},{"period":"1999-2009","glacier":"Virjerab","x":0.466,"y":-52.4},{"period":"1999-2009","glacier":"Virjerab","x":0.472,"y":-37.4},{"period":"1999-2009","glacier":"Virjerab","x":0.481,"y":-37.4},{"period":"1999-2009","glacier":"Virjerab","x":0.487,"y":-40},{"period":"1999-2009","glacier":"Virjerab","x":0.494,"y":-56.8},{"period":"1999-2009","glacier":"Virjerab","x":0.5,"y":-75},{"period":"1999-2009","glacier":"Virjerab","x":0.509,"y":-89},{"period":"1999-2009","glacier":"Virjerab","x":0.518,"y":-93.8},{"period":"1999-2009","glacier":"Virjerab","x":0.524,"y":-80},{"period":"1999-2009","glacier":"Virjerab","x":0.531,"y":-46},{"period":"1999-2009","glacier":"Virjerab","x":0.539,"y":-46.7},{"period":"1999-2009","glacier":"Virjerab","x":0.545,"y":-53.3},{"period":"1999-2009","glacier":"Virjerab","x":0.551,"y":-35.7},{"period":"1999-2009","glacier":"Virjerab","x":0.558,"y":-28.6},{"period":"1999-2009","glacier":"Virjerab","x":0.564,"y":-23.3},{"period":"1999-2009","glacier":"Virjerab","x":0.574,"y":-13.6},{"period":"1999-2009","glacier":"Virjerab","x":0.583,"y":-11},{"period":"1999-2009","glacier":"Virjerab","x":0.592,"y":-2},{"period":"1999-2009","glacier":"Virjerab","x":0.601,"y":4},{"period":"1999-2009","glacier":"Virjerab","x":0.605,"y":6.7},{"period":"1999-2009","glacier":"Virjerab","x":0.614,"y":-3},{"period":"1999-2009","glacier":"Virjerab","x":0.626,"y":-3},{"period":"1999-2009","glacier":"Virjerab","x":0.636,"y":5},{"period":"1999-2009","glacier":"Virjerab","x":0.645,"y":17},{"period":"1999-2009","glacier":"Virjerab","x":0.654,"y":24},{"period":"1999-2009","glacier":"Virjerab","x":0.66,"y":26},{"period":"1999-2009","glacier":"Virjerab","x":0.669,"y":20},{"period":"1999-2009","glacier":"Virjerab","x":0.677,"y":26},{"period":"1999-2009","glacier":"Virjerab","x":0.684,"y":34},{"period":"1999-2009","glacier":"Virjerab","x":0.691,"y":22.5},{"period":"1999-2009","glacier":"Virjerab","x":0.699,"y":15.5},{"period":"1999-2009","glacier":"Virjerab","x":0.706,"y":24.3},{"period":"1999-2009","glacier":"Virjerab","x":0.716,"y":33},{"period":"1999-2009","glacier":"Virjerab","x":0.725,"y":42},{"period":"1999-2009","glacier":"Virjerab","x":0.734,"y":50.8},{"period":"1999-2009","glacier":"Virjerab","x":0.742,"y":42},{"period":"1999-2009","glacier":"Virjerab","x":0.75,"y":31.4},{"period":"1999-2009","glacier":"Virjerab","x":0.759,"y":28.7},{"period":"1999-2009","glacier":"Virjerab","x":0.768,"y":22.5},{"period":"1999-2009","glacier":"Virjerab","x":0.777,"y":17},{"period":"1999-2009","glacier":"Virjerab","x":0.787,"y":12.8},{"period":"1999-2009","glacier":"Virjerab","x":0.796,"y":14.6},{"period":"1999-2009","glacier":"Virjerab","x":0.802,"y":4.9},{"period":"1999-2009","glacier":"Virjerab","x":0.814,"y":5.8},{"period":"1999-2009","glacier":"Virjerab","x":0.824,"y":1.4},{"period":"1999-2009","glacier":"Virjerab","x":0.83,"y":-4},{"period":"1999-2009","glacier":"Virjerab","x":0.842,"y":-12.7},{"period":"1999-2009","glacier":"Virjerab","x":0.851,"y":-21.5},{"period":"1999-2009","glacier":"Virjerab","x":0.861,"y":-17},{"period":"1999-2009","glacier":"Virjerab","x":0.87,"y":-21.5},{"period":"1999-2009","glacier":"Virjerab","x":0.879,"y":-25},{"period":"1999-2009","glacier":"Virjerab","x":0.889,"y":-31},{"period":"1999-2009","glacier":"Virjerab","x":0.895,"y":-28},{"period":"1999-2009","glacier":"Virjerab","x":0.904,"y":-21.5},{"period":"1999-2009","glacier":"Virjerab","x":0.913,"y":-16},{"period":"1999-2009","glacier":"Virjerab","x":0.926,"y":-21.5},{"period":"1999-2009","glacier":"Virjerab","x":0.938,"y":-26.8},{"period":"1999-2009","glacier":"Virjerab","x":0.947,"y":-25},{"period":"1999-2009","glacier":"Virjerab","x":0.957,"y":-16},{"period":"1999-2009","glacier":"Virjerab","x":0.966,"y":-11},{"period":"1999-2009","glacier":"Virjerab","x":0.975,"y":-3.7},{"period":"1999-2009","glacier":"Virjerab","x":0.984,"y":-14.6},{"period":"1999-2009","glacier":"Virjerab","x":0.994,"y":-3.7},{"period":"1999-2009","glacier":"Virjerab","x":1,"y":1.4},
{"period":"1999-2009","glacier":"Hispar","x":0.003,"y":12},{"period":"1999-2009","glacier":"Hispar","x":0.012,"y":20},{"period":"1999-2009","glacier":"Hispar","x":0.021,"y":18},{"period":"1999-2009","glacier":"Hispar","x":0.031,"y":8.5},{"period":"1999-2009","glacier":"Hispar","x":0.037,"y":18},{"period":"1999-2009","glacier":"Hispar","x":0.046,"y":14},{"period":"1999-2009","glacier":"Hispar","x":0.055,"y":7},{"period":"1999-2009","glacier":"Hispar","x":0.064,"y":6},{"period":"1999-2009","glacier":"Hispar","x":0.074,"y":11.6},{"period":"1999-2009","glacier":"Hispar","x":0.083,"y":5},{"period":"1999-2009","glacier":"Hispar","x":0.092,"y":1},{"period":"1999-2009","glacier":"Hispar","x":0.101,"y":-0.7},{"period":"1999-2009","glacier":"Hispar","x":0.111,"y":-3.5},{"period":"1999-2009","glacier":"Hispar","x":0.12,"y":-4.4},{"period":"1999-2009","glacier":"Hispar","x":0.129,"y":-1.7},{"period":"1999-2009","glacier":"Hispar","x":0.142,"y":0},{"period":"1999-2009","glacier":"Hispar","x":0.154,"y":-0.7},{"period":"1999-2009","glacier":"Hispar","x":0.166,"y":0},{"period":"1999-2009","glacier":"Hispar","x":0.179,"y":-1.7},{"period":"1999-2009","glacier":"Hispar","x":0.191,"y":1},{"period":"1999-2009","glacier":"Hispar","x":0.203,"y":-0.7},{"period":"1999-2009","glacier":"Hispar","x":0.216,"y":3.5},{"period":"1999-2009","glacier":"Hispar","x":0.228,"y":0},{"period":"1999-2009","glacier":"Hispar","x":0.24,"y":1},{"period":"1999-2009","glacier":"Hispar","x":0.253,"y":3.5},{"period":"1999-2009","glacier":"Hispar","x":0.264,"y":1.7},{"period":"1999-2009","glacier":"Hispar","x":0.277,"y":1},{"period":"1999-2009","glacier":"Hispar","x":0.29,"y":-1.7},{"period":"1999-2009","glacier":"Hispar","x":0.302,"y":-5.7},{"period":"1999-2009","glacier":"Hispar","x":0.314,"y":-3.5},{"period":"1999-2009","glacier":"Hispar","x":0.327,"y":-9.2},{"period":"1999-2009","glacier":"Hispar","x":0.336,"y":-4.4},{"period":"1999-2009","glacier":"Hispar","x":0.345,"y":-2.6},{"period":"1999-2009","glacier":"Hispar","x":0.355,"y":-0.7},{"period":"1999-2009","glacier":"Hispar","x":0.364,"y":-3.5},{"period":"1999-2009","glacier":"Hispar","x":0.373,"y":-9.2},{"period":"1999-2009","glacier":"Hispar","x":0.382,"y":-11.8},{"period":"1999-2009","glacier":"Hispar","x":0.392,"y":-10},{"period":"1999-2009","glacier":"Hispar","x":0.401,"y":-11.8},{"period":"1999-2009","glacier":"Hispar","x":0.41,"y":-12.7},{"period":"1999-2009","glacier":"Hispar","x":0.419,"y":-8.3},{"period":"1999-2009","glacier":"Hispar","x":0.426,"y":0},{"period":"1999-2009","glacier":"Hispar","x":0.435,"y":-3.5},{"period":"1999-2009","glacier":"Hispar","x":0.447,"y":-6},{"period":"1999-2009","glacier":"Hispar","x":0.456,"y":-2.6},{"period":"1999-2009","glacier":"Hispar","x":0.466,"y":-0.7},{"period":"1999-2009","glacier":"Hispar","x":0.475,"y":-2.6},{"period":"1999-2009","glacier":"Hispar","x":0.484,"y":-8},{"period":"1999-2009","glacier":"Hispar","x":0.493,"y":-9.2},{"period":"1999-2009","glacier":"Hispar","x":0.503,"y":-12.7},{"period":"1999-2009","glacier":"Hispar","x":0.515,"y":-18},{"period":"1999-2009","glacier":"Hispar","x":0.524,"y":-12.7},{"period":"1999-2009","glacier":"Hispar","x":0.537,"y":-2},{"period":"1999-2009","glacier":"Hispar","x":0.546,"y":-4.4},{"period":"1999-2009","glacier":"Hispar","x":0.555,"y":-4.4},{"period":"1999-2009","glacier":"Hispar","x":0.564,"y":-6},{"period":"1999-2009","glacier":"Hispar","x":0.574,"y":-5.3},{"period":"1999-2009","glacier":"Hispar","x":0.583,"y":-8},{"period":"1999-2009","glacier":"Hispar","x":0.592,"y":-11},{"period":"1999-2009","glacier":"Hispar","x":0.601,"y":-5.3},{"period":"1999-2009","glacier":"Hispar","x":0.611,"y":4},{"period":"1999-2009","glacier":"Hispar","x":0.62,"y":0.5},{"period":"1999-2009","glacier":"Hispar","x":0.629,"y":-2},{"period":"1999-2009","glacier":"Hispar","x":0.639,"y":-1},{"period":"1999-2009","glacier":"Hispar","x":0.648,"y":0.5},{"period":"1999-2009","glacier":"Hispar","x":0.657,"y":-3},{"period":"1999-2009","glacier":"Hispar","x":0.666,"y":-4},{"period":"1999-2009","glacier":"Hispar","x":0.676,"y":-2},{"period":"1999-2009","glacier":"Hispar","x":0.685,"y":-6},{"period":"1999-2009","glacier":"Hispar","x":0.694,"y":-8},{"period":"1999-2009","glacier":"Hispar","x":0.703,"y":-6},{"period":"1999-2009","glacier":"Hispar","x":0.713,"y":-11},{"period":"1999-2009","glacier":"Hispar","x":0.722,"y":-7},{"period":"1999-2009","glacier":"Hispar","x":0.731,"y":-12.7},{"period":"1999-2009","glacier":"Hispar","x":0.74,"y":-9.2},{"period":"1999-2009","glacier":"Hispar","x":0.75,"y":-6},{"period":"1999-2009","glacier":"Hispar","x":0.759,"y":-21.5},{"period":"1999-2009","glacier":"Hispar","x":0.768,"y":-9.2},{"period":"1999-2009","glacier":"Hispar","x":0.777,"y":-3},{"period":"1999-2009","glacier":"Hispar","x":0.787,"y":-14.6},{"period":"1999-2009","glacier":"Hispar","x":0.796,"y":0},{"period":"1999-2009","glacier":"Hispar","x":0.805,"y":2.5},{"period":"1999-2009","glacier":"Hispar","x":0.811,"y":-4},{"period":"1999-2009","glacier":"Hispar","x":0.818,"y":-12.7},{"period":"1999-2009","glacier":"Hispar","x":0.827,"y":-19.8},{"period":"1999-2009","glacier":"Hispar","x":0.836,"y":-18},{"period":"1999-2009","glacier":"Hispar","x":0.845,"y":-14.6},{"period":"1999-2009","glacier":"Hispar","x":0.854,"y":-25},{"period":"1999-2009","glacier":"Hispar","x":0.864,"y":-21.5},{"period":"1999-2009","glacier":"Hispar","x":0.873,"y":-12.7},{"period":"1999-2009","glacier":"Hispar","x":0.882,"y":-7},{"period":"1999-2009","glacier":"Hispar","x":0.891,"y":-11},{"period":"1999-2009","glacier":"Hispar","x":0.901,"y":-5.3},{"period":"1999-2009","glacier":"Hispar","x":0.91,"y":-16},{"period":"1999-2009","glacier":"Hispar","x":0.919,"y":-21.5},{"period":"1999-2009","glacier":"Hispar","x":0.929,"y":-11},{"period":"1999-2009","glacier":"Hispar","x":0.938,"y":-16},{"period":"1999-2009","glacier":"Hispar","x":0.947,"y":-26.8},{"period":"1999-2009","glacier":"Hispar","x":0.957,"y":-18},{"period":"1999-2009","glacier":"Hispar","x":0.966,"y":-9.2},{"period":"1999-2009","glacier":"Hispar","x":0.975,"y":-19.8},{"period":"1999-2009","glacier":"Hispar","x":0.984,"y":-27.7},{"period":"1999-2009","glacier":"Hispar","x":0.99,"y":-12.7},{"period":"1999-2009","glacier":"Hispar","x":0.996,"y":-3},{"period":"1999-2009","glacier":"Hispar","x":1,"y":0},
{"period":"1999-2009","glacier":"Batura","x":0,"y":-9.2},{"period":"1999-2009","glacier":"Batura","x":0.006,"y":-12},{"period":"1999-2009","glacier":"Batura","x":0.012,"y":7},{"period":"1999-2009","glacier":"Batura","x":0.018,"y":20},{"period":"1999-2009","glacier":"Batura","x":0.024,"y":12},{"period":"1999-2009","glacier":"Batura","x":0.031,"y":0},{"period":"1999-2009","glacier":"Batura","x":0.037,"y":-3.5},{"period":"1999-2009","glacier":"Batura","x":0.046,"y":-1.7},{"period":"1999-2009","glacier":"Batura","x":0.055,"y":6},{"period":"1999-2009","glacier":"Batura","x":0.064,"y":11.6},{"period":"1999-2009","glacier":"Batura","x":0.074,"y":7},{"period":"1999-2009","glacier":"Batura","x":0.08,"y":5},{"period":"1999-2009","glacier":"Batura","x":0.086,"y":20},{"period":"1999-2009","glacier":"Batura","x":0.092,"y":10},{"period":"1999-2009","glacier":"Batura","x":0.099,"y":-5.7},{"period":"1999-2009","glacier":"Batura","x":0.105,"y":-9.2},{"period":"1999-2009","glacier":"Batura","x":0.111,"y":-2.6},{"period":"1999-2009","glacier":"Batura","x":0.117,"y":12},{"period":"1999-2009","glacier":"Batura","x":0.123,"y":20},{"period":"1999-2009","glacier":"Batura","x":0.129,"y":12},{"period":"1999-2009","glacier":"Batura","x":0.136,"y":0},{"period":"1999-2009","glacier":"Batura","x":0.142,"y":8.5},{"period":"1999-2009","glacier":"Batura","x":0.148,"y":1.7},{"period":"1999-2009","glacier":"Batura","x":0.154,"y":-5.7},{"period":"1999-2009","glacier":"Batura","x":0.163,"y":-4},{"period":"1999-2009","glacier":"Batura","x":0.169,"y":5},{"period":"1999-2009","glacier":"Batura","x":0.176,"y":19},{"period":"1999-2009","glacier":"Batura","x":0.182,"y":14},{"period":"1999-2009","glacier":"Batura","x":0.188,"y":1},{"period":"1999-2009","glacier":"Batura","x":0.194,"y":8.5},{"period":"1999-2009","glacier":"Batura","x":0.2,"y":1.7},{"period":"1999-2009","glacier":"Batura","x":0.206,"y":-12.7},{"period":"1999-2009","glacier":"Batura","x":0.213,"y":-18},{"period":"1999-2009","glacier":"Batura","x":0.219,"y":-3.5},{"period":"1999-2009","glacier":"Batura","x":0.225,"y":14},{"period":"1999-2009","glacier":"Batura","x":0.231,"y":10},{"period":"1999-2009","glacier":"Batura","x":0.237,"y":1.7},{"period":"1999-2009","glacier":"Batura","x":0.244,"y":10},{"period":"1999-2009","glacier":"Batura","x":0.25,"y":-1.7},{"period":"1999-2009","glacier":"Batura","x":0.256,"y":-11},{"period":"1999-2009","glacier":"Batura","x":0.265,"y":3.5},{"period":"1999-2009","glacier":"Batura","x":0.274,"y":-0.7},{"period":"1999-2009","glacier":"Batura","x":0.284,"y":-12.7},{"period":"1999-2009","glacier":"Batura","x":0.29,"y":-3.5},{"period":"1999-2009","glacier":"Batura","x":0.299,"y":1.7},{"period":"1999-2009","glacier":"Batura","x":0.308,"y":-0.7},{"period":"1999-2009","glacier":"Batura","x":0.318,"y":-6},{"period":"1999-2009","glacier":"Batura","x":0.327,"y":-4.4},{"period":"1999-2009","glacier":"Batura","x":0.336,"y":5},{"period":"1999-2009","glacier":"Batura","x":0.342,"y":8.5},{"period":"1999-2009","glacier":"Batura","x":0.348,"y":3.5},{"period":"1999-2009","glacier":"Batura","x":0.358,"y":-5.3},{"period":"1999-2009","glacier":"Batura","x":0.367,"y":-1.7},{"period":"1999-2009","glacier":"Batura","x":0.373,"y":-12.7},{"period":"1999-2009","glacier":"Batura","x":0.379,"y":-19.8},{"period":"1999-2009","glacier":"Batura","x":0.389,"y":-12.7},{"period":"1999-2009","glacier":"Batura","x":0.395,"y":-18},{"period":"1999-2009","glacier":"Batura","x":0.401,"y":-11},{"period":"1999-2009","glacier":"Batura","x":0.407,"y":-16},{"period":"1999-2009","glacier":"Batura","x":0.413,"y":-11},{"period":"1999-2009","glacier":"Batura","x":0.419,"y":-1.7},{"period":"1999-2009","glacier":"Batura","x":0.426,"y":-7},{"period":"1999-2009","glacier":"Batura","x":0.432,"y":-11},{"period":"1999-2009","glacier":"Batura","x":0.438,"y":-23.3},{"period":"1999-2009","glacier":"Batura","x":0.444,"y":-42},{"period":"1999-2009","glacier":"Batura","x":0.449,"y":-32},{"period":"1999-2009","glacier":"Batura","x":0.453,"y":-21.5},{"period":"1999-2009","glacier":"Batura","x":0.463,"y":-12.7},{"period":"1999-2009","glacier":"Batura","x":0.472,"y":-7},{"period":"1999-2009","glacier":"Batura","x":0.481,"y":-14.6},{"period":"1999-2009","glacier":"Batura","x":0.49,"y":-12.7},{"period":"1999-2009","glacier":"Batura","x":0.5,"y":0},{"period":"1999-2009","glacier":"Batura","x":0.505,"y":2},{"period":"1999-2009","glacier":"Batura","x":0.512,"y":11},{"period":"1999-2009","glacier":"Batura","x":0.521,"y":3},{"period":"1999-2009","glacier":"Batura","x":0.531,"y":-4},{"period":"1999-2009","glacier":"Batura","x":0.54,"y":5},{"period":"1999-2009","glacier":"Batura","x":0.549,"y":-5.3},{"period":"1999-2009","glacier":"Batura","x":0.558,"y":-18},{"period":"1999-2009","glacier":"Batura","x":0.564,"y":-26},{"period":"1999-2009","glacier":"Batura","x":0.574,"y":-16},{"period":"1999-2009","glacier":"Batura","x":0.583,"y":-14.6},{"period":"1999-2009","glacier":"Batura","x":0.589,"y":-5.3},{"period":"1999-2009","glacier":"Batura","x":0.595,"y":6.7},{"period":"1999-2009","glacier":"Batura","x":0.601,"y":12.8},{"period":"1999-2009","glacier":"Batura","x":0.608,"y":6.7},{"period":"1999-2009","glacier":"Batura","x":0.614,"y":0},{"period":"1999-2009","glacier":"Batura","x":0.62,"y":-9.2},{"period":"1999-2009","glacier":"Batura","x":0.629,"y":-16},{"period":"1999-2009","glacier":"Batura","x":0.639,"y":-21.5},{"period":"1999-2009","glacier":"Batura","x":0.645,"y":-23.3},{"period":"1999-2009","glacier":"Batura","x":0.651,"y":-18},{"period":"1999-2009","glacier":"Batura","x":0.657,"y":-12.7},{"period":"1999-2009","glacier":"Batura","x":0.666,"y":-19.8},{"period":"1999-2009","glacier":"Batura","x":0.676,"y":-21.5},{"period":"1999-2009","glacier":"Batura","x":0.685,"y":-19},{"period":"1999-2009","glacier":"Batura","x":0.694,"y":-19.8},{"period":"1999-2009","glacier":"Batura","x":0.703,"y":-15.5},{"period":"1999-2009","glacier":"Batura","x":0.713,"y":-18},{"period":"1999-2009","glacier":"Batura","x":0.722,"y":-12.7},{"period":"1999-2009","glacier":"Batura","x":0.731,"y":-7},{"period":"1999-2009","glacier":"Batura","x":0.74,"y":-14.6},{"period":"1999-2009","glacier":"Batura","x":0.75,"y":-9.2},{"period":"1999-2009","glacier":"Batura","x":0.759,"y":-11},{"period":"1999-2009","glacier":"Batura","x":0.768,"y":-16},{"period":"1999-2009","glacier":"Batura","x":0.777,"y":-14.6},{"period":"1999-2009","glacier":"Batura","x":0.787,"y":-8},{"period":"1999-2009","glacier":"Batura","x":0.796,"y":-11},{"period":"1999-2009","glacier":"Batura","x":0.805,"y":-14.6},{"period":"1999-2009","glacier":"Batura","x":0.814,"y":-19.8},{"period":"1999-2009","glacier":"Batura","x":0.824,"y":-18},{"period":"1999-2009","glacier":"Batura","x":0.833,"y":-21.5},{"period":"1999-2009","glacier":"Batura","x":0.842,"y":-26.8},{"period":"1999-2009","glacier":"Batura","x":0.848,"y":-31},{"period":"1999-2009","glacier":"Batura","x":0.854,"y":-21.5},{"period":"1999-2009","glacier":"Batura","x":0.861,"y":-12.7},{"period":"1999-2009","glacier":"Batura","x":0.867,"y":1.7},{"period":"1999-2009","glacier":"Batura","x":0.873,"y":-7},{"period":"1999-2009","glacier":"Batura","x":0.882,"y":-5.3},{"period":"1999-2009","glacier":"Batura","x":0.891,"y":-9.2},{"period":"1999-2009","glacier":"Batura","x":0.901,"y":-12.7},{"period":"1999-2009","glacier":"Batura","x":0.91,"y":-9.2},{"period":"1999-2009","glacier":"Batura","x":0.919,"y":-14.6},{"period":"1999-2009","glacier":"Batura","x":0.929,"y":-10},{"period":"1999-2009","glacier":"Batura","x":0.935,"y":-4.4},{"period":"1999-2009","glacier":"Batura","x":0.941,"y":-11.8},{"period":"1999-2009","glacier":"Batura","x":0.947,"y":1.7},{"period":"1999-2009","glacier":"Batura","x":0.953,"y":5},{"period":"1999-2009","glacier":"Batura","x":0.959,"y":12},{"period":"1999-2009","glacier":"Batura","x":0.966,"y":7},{"period":"1999-2009","glacier":"Batura","x":0.972,"y":6},{"period":"1999-2009","glacier":"Batura","x":0.978,"y":-2},{"period":"1999-2009","glacier":"Batura","x":0.984,"y":-12.7},{"period":"1999-2009","glacier":"Batura","x":0.99,"y":-11},{"period":"1999-2009","glacier":"Batura","x":0.996,"y":-3.5},{"period":"1999-2009","glacier":"Batura","x":1,"y":0}
]
},
"hconcat": [
{
"width": 538, "height": 377,
"layer": [
{
"data": {"name": "d"},
"transform": [{"filter": "datum.period === '1973-1999'"}],
"mark": {"type": "line", "strokeWidth": 1.8, "interpolate": "monotone"},
"encoding": {
"x": {"field": "x", "type": "quantitative", "scale": {"domain": [0, 1], "nice": false, "zero": false}, "axis": {"title": "Normalized Length", "values": [0,0.1,0.2,0.3,0.4,0.5,0.6,0.7,0.8,0.9,1], "format": ".1f"}},
"y": {"field": "y", "type": "quantitative", "scale": {"domain": [-100, 100], "nice": false}, "axis": {"title": "Thickness Change [m]", "values": [-100,-50,0,50,100]}},
"color": {"field": "glacier", "type": "nominal", "scale": {"domain": ["Khurdopin","Virjerab","Hispar","Batura"], "range": ["#5b9bd5","#000000","#00b050","#ff0000"]}, "legend": {"title": null}}
}
},
{
"data": {"values": [{"label": "1973 - 1999"}]},
"mark": {"type": "text", "align": "left", "baseline": "alphabetic", "font": "Liberation Sans", "fontSize": 21, "fontWeight": "bold", "color": "#000000"},
"encoding": {"x": {"datum": 0.011}, "y": {"datum": 85}, "text": {"field": "label"}}
}
]
},
{
"width": 540, "height": 377,
"layer": [
{
"data": {"name": "d"},
"transform": [{"filter": "datum.period === '1999-2009'"}],
"mark": {"type": "line", "strokeWidth": 1.8, "interpolate": "monotone"},
"encoding": {
"x": {"field": "x", "type": "quantitative", "scale": {"domain": [0, 1], "nice": false, "zero": false}, "axis": {"title": "Normalized Length", "values": [0,0.1,0.2,0.3,0.4,0.5,0.6,0.7,0.8,0.9,1], "format": ".1f"}},
"y": {"field": "y", "type": "quantitative", "scale": {"domain": [-100, 100], "nice": false}, "axis": {"title": null, "values": [-100,-50,0,50,100]}},
"color": {"field": "glacier", "type": "nominal", "scale": {"domain": ["Khurdopin","Virjerab","Hispar","Batura"], "range": ["#5b9bd5","#000000","#00b050","#ff0000"]}, "legend": {"title": null}}
}
},
{
"data": {"values": [{"label": "1999 - 2009"}]},
"mark": {"type": "text", "align": "left", "baseline": "alphabetic", "font": "Liberation Sans", "fontSize": 21, "fontWeight": "bold", "color": "#000000"},
"encoding": {"x": {"datum": 0.016}, "y": {"datum": 85}, "text": {"field": "label"}}
}
]
}
],
"spacing": 13,
"config": {
"view": {"stroke": null},
"font": "Lato",
"axis": {"labelColor": "#595959", "labelFontSize": 11.5, "labelFont": "Lato", "domainColor": "#d9d9d9", "tickColor": "#d9d9d9", "gridColor": "#d9d9d9", "gridDash": [2, 2], "titleFont": "Lato", "titleFontWeight": "bold", "titleFontSize": 12.5, "titleColor": "#000000"},
"axisX": {"grid": false, "tickSize": 4, "labelPadding": 5, "titlePadding": 4, "labelFlush": false},
"axisY": {"ticks": false, "labelPadding": 12, "grid": true, "titlePadding": 1},
"legend": {"orient": "right", "offset": 8, "symbolType": "stroke", "symbolSize": 676, "symbolStrokeWidth": 2, "labelFont": "Lato", "labelFontSize": 14, "labelColor": "#000000", "rowPadding": 10, "labelOffset": 2, "padding": 0}
}
}
